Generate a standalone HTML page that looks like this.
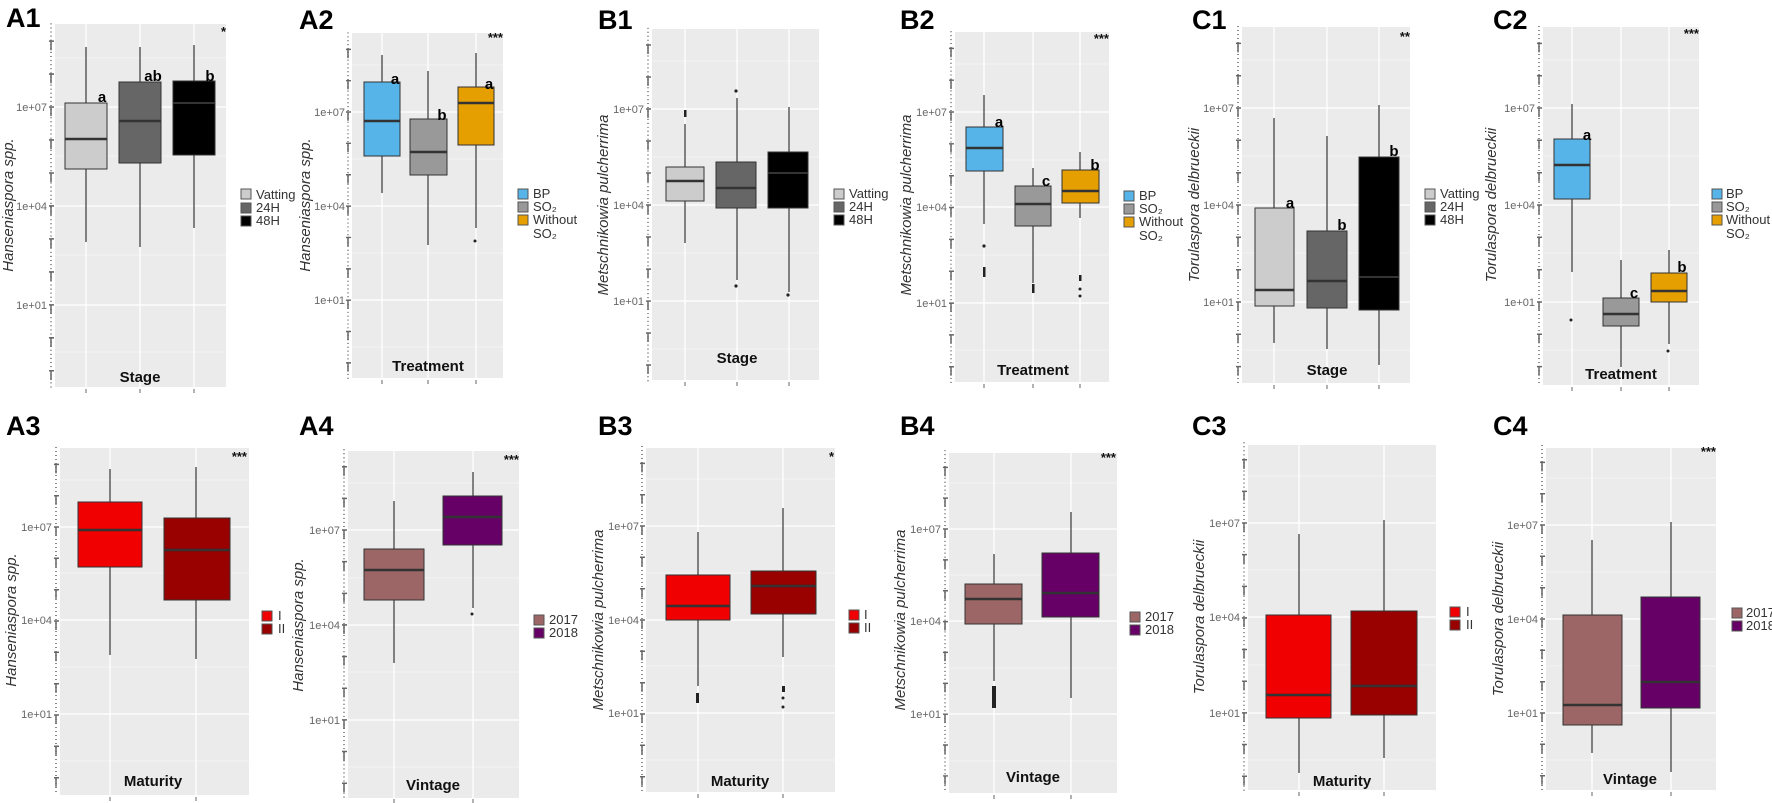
<!DOCTYPE html>
<html><head><meta charset="utf-8"><style>
body{margin:0;background:#fff}
svg{display:block}
.lab{font:bold 27px "Liberation Sans",sans-serif;fill:#000}
.tk{font:11px "Liberation Sans",sans-serif;fill:#666;text-anchor:end}
.yt{font:italic 15px "Liberation Sans",sans-serif;fill:#333;text-anchor:middle}
.xt{font:bold 15px "Liberation Sans",sans-serif;fill:#111;text-anchor:middle}
.lg{font:13px "Liberation Sans",sans-serif;fill:#333}
.le{font:bold 15px "Liberation Sans",sans-serif;fill:#000;text-anchor:middle}
.st{font:bold 13px "Liberation Sans",sans-serif;fill:#111;text-anchor:end}
.bx{stroke:#333;stroke-width:1}
.md{stroke:#333;stroke-width:2.5}
.wk{stroke:#444;stroke-width:1.3}
.gM{stroke:#fff;stroke-width:1.3}
.gm{stroke:#f6f6f6;stroke-width:0.8}
</style></head><body>
<svg width="1772" height="803" viewBox="0 0 1772 803" xmlns="http://www.w3.org/2000/svg">
<defs>
<g id="axT" stroke="#666" fill="none" stroke-width="1.5">
<line x1="-4" y1="-82" x2="-4" y2="278" stroke-dasharray="1,3"/>
<path d="M-6,-64.6h5M-6,-32.3h5M-6,0h5M-6,32.3h5M-6,64.7h5M-6,97h5M-6,129.3h5M-6,161.7h5M-6,194h5M-6,226.3h5M-6,258.6h5"/>
<path d="M-4,-64.6v9M-4,-32.3v9M-4,0v9M-4,32.3v9M-4,64.7v9M-4,97v9M-4,129.3v9M-4,161.7v9M-4,194v9M-4,226.3v9M-4,258.6v9"/>
</g>
<g id="axB" stroke="#666" fill="none" stroke-width="1.5">
<line x1="-4" y1="-80" x2="-4" y2="265" stroke-dasharray="1,3"/>
<path d="M-6,-62.6h5M-6,-31.3h5M-6,0h5M-6,31.3h5M-6,62.7h5M-6,94h5M-6,125.3h5M-6,156.7h5M-6,188h5M-6,219.3h5M-6,250.7h5"/>
<path d="M-4,-62.6v9M-4,-31.3v9M-4,0v9M-4,31.3v9M-4,62.7v9M-4,94v9M-4,125.3v9M-4,156.7v9M-4,188v9M-4,219.3v9M-4,250.7v9"/>
</g>
</defs>

<!-- ===== A1 ===== -->
<text class="lab" x="6" y="27">A1</text>
<rect x="55" y="24" width="171" height="363" fill="#ebebeb"/>
<g class="gm"><line x1="55" x2="226" y1="58" y2="58"/><line x1="55" x2="226" y1="156" y2="156"/><line x1="55" x2="226" y1="255" y2="255"/><line x1="55" x2="226" y1="352" y2="352"/></g>
<g class="gM"><line x1="55" x2="226" y1="107" y2="107"/><line x1="55" x2="226" y1="206" y2="206"/><line x1="55" x2="226" y1="305" y2="305"/><line x1="86" x2="86" y1="24" y2="387"/><line x1="140" x2="140" y1="24" y2="387"/><line x1="194" x2="194" y1="24" y2="387"/></g>
<use href="#axT" transform="translate(55,107) scale(1,1.02)"/>
<text class="tk" x="47" y="111">1e+07</text><text class="tk" x="47" y="210">1e+04</text><text class="tk" x="47" y="309">1e+01</text>
<text class="yt" transform="translate(13,205) rotate(-90)">Hanseniaspora spp.</text>
<line class="wk" x1="86" x2="86" y1="47" y2="242"/><rect class="bx" x="65" y="103" width="42" height="66" fill="#cccccc"/><line class="md" x1="65" x2="107" y1="139" y2="139"/>
<line class="wk" x1="140" x2="140" y1="47" y2="247"/><rect class="bx" x="119" y="82" width="42" height="81" fill="#666666"/><line class="md" x1="119" x2="161" y1="121" y2="121"/>
<line class="wk" x1="194" x2="194" y1="45" y2="228"/><rect class="bx" x="173" y="81" width="42" height="74" fill="#000000"/><line x1="173" x2="215" y1="103" y2="103" stroke="#333" stroke-width="2"/>
<text class="le" x="102" y="102">a</text><text class="le" x="153" y="81">ab</text><text class="le" x="210" y="81">b</text>
<text class="st" x="226" y="36">*</text>
<text class="xt" x="140" y="382">Stage</text>
<rect x="241" y="189" width="10" height="10" fill="#ccc" stroke="#555"/><text class="lg" x="256" y="199">Vatting</text>
<rect x="241" y="203" width="10" height="10" fill="#666" stroke="#555"/><text class="lg" x="256" y="212">24H</text>
<rect x="241" y="216" width="10" height="10" fill="#000" stroke="#555"/><text class="lg" x="256" y="225">48H</text>

<!-- ===== A2 ===== -->
<text class="lab" x="299" y="29">A2</text>
<rect x="352" y="33" width="151" height="345" fill="#ebebeb"/>
<g class="gm"><line x1="352" x2="503" y1="65" y2="65"/><line x1="352" x2="503" y1="159" y2="159"/><line x1="352" x2="503" y1="253" y2="253"/><line x1="352" x2="503" y1="347" y2="347"/></g>
<g class="gM"><line x1="352" x2="503" y1="112" y2="112"/><line x1="352" x2="503" y1="206" y2="206"/><line x1="352" x2="503" y1="300" y2="300"/><line x1="382" x2="382" y1="33" y2="378"/><line x1="428" x2="428" y1="33" y2="378"/><line x1="476" x2="476" y1="33" y2="378"/></g>
<use href="#axT" transform="translate(352,112) scale(1,0.97)"/>
<text class="tk" x="345" y="116">1e+07</text><text class="tk" x="345" y="210">1e+04</text><text class="tk" x="345" y="304">1e+01</text>
<text class="yt" transform="translate(310,205) rotate(-90)">Hanseniaspora spp.</text>
<line class="wk" x1="382" x2="382" y1="55" y2="193"/><rect class="bx" x="364" y="82" width="36" height="74" fill="#56b4e9"/><line class="md" x1="364" x2="400" y1="121" y2="121"/>
<line class="wk" x1="428" x2="428" y1="71" y2="245"/><rect class="bx" x="410" y="119" width="37" height="56" fill="#999999"/><line class="md" x1="410" x2="447" y1="152" y2="152"/>
<line class="wk" x1="476" x2="476" y1="53" y2="228"/><rect class="bx" x="458" y="87" width="36" height="58" fill="#e69f00"/><line class="md" x1="458" x2="494" y1="103" y2="103"/>
<circle cx="475" cy="241" r="1.5" fill="#222"/>
<text class="le" x="395" y="84">a</text><text class="le" x="442" y="120">b</text><text class="le" x="489" y="89">a</text>
<text class="st" x="503" y="42">***</text>
<text class="xt" x="428" y="371">Treatment</text>
<rect x="518" y="189" width="10" height="10" fill="#56b4e9" stroke="#555"/><text class="lg" x="533" y="198">BP</text>
<rect x="518" y="202" width="10" height="10" fill="#999" stroke="#555"/><text class="lg" x="533" y="211">SO₂</text>
<rect x="518" y="215" width="10" height="10" fill="#e69f00" stroke="#555"/><text class="lg" x="533" y="224">Without</text>
<text class="lg" x="533" y="238">SO₂</text>

<!-- ===== B1 ===== -->
<text class="lab" x="598" y="29">B1</text>
<rect x="652" y="29" width="167" height="351" fill="#ebebeb"/>
<g class="gm"><line x1="652" x2="819" y1="61" y2="61"/><line x1="652" x2="819" y1="157" y2="157"/><line x1="652" x2="819" y1="253" y2="253"/><line x1="652" x2="819" y1="349" y2="349"/></g>
<g class="gM"><line x1="652" x2="819" y1="109" y2="109"/><line x1="652" x2="819" y1="205" y2="205"/><line x1="652" x2="819" y1="301" y2="301"/><line x1="685" x2="685" y1="29" y2="380"/><line x1="737" x2="737" y1="29" y2="380"/><line x1="789" x2="789" y1="29" y2="380"/></g>
<use href="#axT" transform="translate(652,109) scale(1,0.99)"/>
<text class="tk" x="644" y="113">1e+07</text><text class="tk" x="644" y="209">1e+04</text><text class="tk" x="644" y="305">1e+01</text>
<text class="yt" transform="translate(608,205) rotate(-90)">Metschnikowia pulcherrima</text>
<line class="wk" x1="685" x2="685" y1="124" y2="243"/><rect class="bx" x="666" y="167" width="38" height="34" fill="#cccccc"/><line class="md" x1="666" x2="704" y1="181" y2="181"/>
<rect x="684" y="110" width="2.5" height="7" fill="#222"/>
<line class="wk" x1="737" x2="737" y1="98" y2="280"/><rect class="bx" x="716" y="162" width="40" height="46" fill="#666666"/><line class="md" x1="716" x2="756" y1="188" y2="188"/>
<circle cx="736" cy="91" r="1.6" fill="#222"/><circle cx="736" cy="286" r="1.6" fill="#222"/>
<line class="wk" x1="789" x2="789" y1="107" y2="292"/><rect class="bx" x="768" y="152" width="40" height="56" fill="#000000"/><line x1="768" x2="808" y1="173" y2="173" stroke="#333" stroke-width="2"/>
<circle cx="788" cy="295" r="1.6" fill="#222"/>
<text class="xt" x="737" y="363">Stage</text>
<rect x="834" y="189" width="10" height="10" fill="#ccc" stroke="#555"/><text class="lg" x="849" y="198">Vatting</text>
<rect x="834" y="202" width="10" height="10" fill="#666" stroke="#555"/><text class="lg" x="849" y="211">24H</text>
<rect x="834" y="215" width="10" height="10" fill="#000" stroke="#555"/><text class="lg" x="849" y="224">48H</text>

<!-- ===== B2 ===== -->
<text class="lab" x="900" y="29">B2</text>
<rect x="955" y="32" width="154" height="350" fill="#ebebeb"/>
<g class="gm"><line x1="955" x2="1109" y1="64" y2="64"/><line x1="955" x2="1109" y1="160" y2="160"/><line x1="955" x2="1109" y1="255" y2="255"/><line x1="955" x2="1109" y1="350" y2="350"/></g>
<g class="gM"><line x1="955" x2="1109" y1="112" y2="112"/><line x1="955" x2="1109" y1="207" y2="207"/><line x1="955" x2="1109" y1="303" y2="303"/><line x1="984" x2="984" y1="32" y2="382"/><line x1="1033" x2="1033" y1="32" y2="382"/><line x1="1080" x2="1080" y1="32" y2="382"/></g>
<use href="#axT" transform="translate(955,112) scale(1,0.985)"/>
<text class="tk" x="947" y="116">1e+07</text><text class="tk" x="947" y="211">1e+04</text><text class="tk" x="947" y="307">1e+01</text>
<text class="yt" transform="translate(911,205) rotate(-90)">Metschnikowia pulcherrima</text>
<line class="wk" x1="984" x2="984" y1="95" y2="224"/><rect class="bx" x="966" y="127" width="37" height="44" fill="#56b4e9"/><line class="md" x1="966" x2="1003" y1="148" y2="148"/>
<circle cx="984" cy="246" r="1.6" fill="#222"/><rect x="983" y="267" width="2.5" height="10" fill="#222"/>
<line class="wk" x1="1033" x2="1033" y1="168" y2="283"/><rect class="bx" x="1015" y="186" width="36" height="40" fill="#999999"/><line class="md" x1="1015" x2="1051" y1="204" y2="204"/>
<rect x="1032" y="284" width="2.5" height="9" fill="#222"/>
<line class="wk" x1="1080" x2="1080" y1="152" y2="218"/><rect class="bx" x="1062" y="170" width="37" height="33" fill="#e69f00"/><line class="md" x1="1062" x2="1099" y1="191" y2="191"/>
<rect x="1079" y="275" width="2.5" height="6" fill="#222"/><circle cx="1080" cy="289" r="1.5" fill="#222"/><circle cx="1080" cy="296" r="1.5" fill="#222"/>
<text class="le" x="999" y="127">a</text><text class="le" x="1046" y="186">c</text><text class="le" x="1095" y="170">b</text>
<text class="st" x="1109" y="43">***</text>
<text class="xt" x="1033" y="375">Treatment</text>
<rect x="1124" y="191" width="10" height="10" fill="#56b4e9" stroke="#555"/><text class="lg" x="1139" y="200">BP</text>
<rect x="1124" y="204" width="10" height="10" fill="#999" stroke="#555"/><text class="lg" x="1139" y="213">SO₂</text>
<rect x="1124" y="217" width="10" height="10" fill="#e69f00" stroke="#555"/><text class="lg" x="1139" y="226">Without</text>
<text class="lg" x="1139" y="240">SO₂</text>

<!-- ===== C1 ===== -->
<text class="lab" x="1192" y="29">C1</text>
<rect x="1242" y="27" width="168" height="356" fill="#ebebeb"/>
<g class="gm"><line x1="1242" x2="1410" y1="60" y2="60"/><line x1="1242" x2="1410" y1="156" y2="156"/><line x1="1242" x2="1410" y1="253" y2="253"/><line x1="1242" x2="1410" y1="350" y2="350"/></g>
<g class="gM"><line x1="1242" x2="1410" y1="108" y2="108"/><line x1="1242" x2="1410" y1="205" y2="205"/><line x1="1242" x2="1410" y1="302" y2="302"/><line x1="1274" x2="1274" y1="27" y2="383"/><line x1="1327" x2="1327" y1="27" y2="383"/><line x1="1379" x2="1379" y1="27" y2="383"/></g>
<use href="#axT" transform="translate(1242,108)"/>
<text class="tk" x="1234" y="112">1e+07</text><text class="tk" x="1234" y="209">1e+04</text><text class="tk" x="1234" y="306">1e+01</text>
<text class="yt" transform="translate(1199,205) rotate(-90)">Torulaspora delbrueckii</text>
<line class="wk" x1="1274" x2="1274" y1="118" y2="343"/><rect class="bx" x="1255" y="208" width="39" height="98" fill="#cccccc"/><line class="md" x1="1255" x2="1294" y1="290" y2="290"/>
<line class="wk" x1="1327" x2="1327" y1="136" y2="349"/><rect class="bx" x="1307" y="231" width="40" height="77" fill="#666666"/><line class="md" x1="1307" x2="1347" y1="281" y2="281"/>
<line class="wk" x1="1379" x2="1379" y1="105" y2="365"/><rect class="bx" x="1359" y="157" width="40" height="153" fill="#000000"/><line x1="1359" x2="1399" y1="277" y2="277" stroke="#333" stroke-width="2"/>
<text class="le" x="1290" y="208">a</text><text class="le" x="1342" y="230">b</text><text class="le" x="1394" y="156">b</text>
<text class="st" x="1410" y="41">**</text>
<text class="xt" x="1327" y="375">Stage</text>
<rect x="1425" y="189" width="10" height="10" fill="#ccc" stroke="#555"/><text class="lg" x="1440" y="198">Vatting</text>
<rect x="1425" y="202" width="10" height="10" fill="#666" stroke="#555"/><text class="lg" x="1440" y="211">24H</text>
<rect x="1425" y="215" width="10" height="10" fill="#000" stroke="#555"/><text class="lg" x="1440" y="224">48H</text>

<!-- ===== C2 ===== -->
<text class="lab" x="1493" y="29">C2</text>
<rect x="1543" y="27" width="156" height="358" fill="#ebebeb"/>
<g class="gm"><line x1="1543" x2="1699" y1="60" y2="60"/><line x1="1543" x2="1699" y1="156" y2="156"/><line x1="1543" x2="1699" y1="253" y2="253"/><line x1="1543" x2="1699" y1="350" y2="350"/></g>
<g class="gM"><line x1="1543" x2="1699" y1="108" y2="108"/><line x1="1543" x2="1699" y1="205" y2="205"/><line x1="1543" x2="1699" y1="302" y2="302"/><line x1="1572" x2="1572" y1="27" y2="385"/><line x1="1621" x2="1621" y1="27" y2="385"/><line x1="1669" x2="1669" y1="27" y2="385"/></g>
<use href="#axT" transform="translate(1543,108)"/>
<text class="tk" x="1535" y="112">1e+07</text><text class="tk" x="1535" y="209">1e+04</text><text class="tk" x="1535" y="306">1e+01</text>
<text class="yt" transform="translate(1496,205) rotate(-90)">Torulaspora delbrueckii</text>
<line class="wk" x1="1572" x2="1572" y1="104" y2="272"/><rect class="bx" x="1554" y="139" width="36" height="60" fill="#56b4e9"/><line class="md" x1="1554" x2="1590" y1="165" y2="165"/>
<circle cx="1571" cy="320" r="1.5" fill="#222"/>
<line class="wk" x1="1621" x2="1621" y1="260" y2="367"/><rect class="bx" x="1603" y="298" width="36" height="28" fill="#999999"/><line class="md" x1="1603" x2="1639" y1="314" y2="314"/>
<line class="wk" x1="1669" x2="1669" y1="250" y2="344"/><rect class="bx" x="1651" y="273" width="36" height="29" fill="#e69f00"/><line class="md" x1="1651" x2="1687" y1="291" y2="291"/>
<circle cx="1668" cy="351" r="1.5" fill="#222"/>
<text class="le" x="1587" y="140">a</text><text class="le" x="1634" y="298">c</text><text class="le" x="1682" y="272">b</text>
<text class="st" x="1699" y="38">***</text>
<text class="xt" x="1621" y="379">Treatment</text>
<rect x="1712" y="189" width="10" height="10" fill="#56b4e9" stroke="#555"/><text class="lg" x="1726" y="198">BP</text>
<rect x="1712" y="202" width="10" height="10" fill="#999" stroke="#555"/><text class="lg" x="1726" y="211">SO₂</text>
<rect x="1712" y="215" width="10" height="10" fill="#e69f00" stroke="#555"/><text class="lg" x="1726" y="224">Without</text>
<text class="lg" x="1726" y="238">SO₂</text>

<!-- x-axis ticks top row -->
<g stroke="#666" stroke-width="1">
<line x1="86" x2="86" y1="389" y2="393"/><line x1="140" x2="140" y1="389" y2="393"/><line x1="194" x2="194" y1="389" y2="393"/>
<line x1="382" x2="382" y1="380" y2="384"/><line x1="428" x2="428" y1="380" y2="384"/><line x1="476" x2="476" y1="380" y2="384"/>
<line x1="685" x2="685" y1="382" y2="386"/><line x1="737" x2="737" y1="382" y2="386"/><line x1="789" x2="789" y1="382" y2="386"/>
<line x1="984" x2="984" y1="384" y2="388"/><line x1="1033" x2="1033" y1="384" y2="388"/><line x1="1080" x2="1080" y1="384" y2="388"/>
<line x1="1274" x2="1274" y1="385" y2="389"/><line x1="1327" x2="1327" y1="385" y2="389"/><line x1="1379" x2="1379" y1="385" y2="389"/>
<line x1="1572" x2="1572" y1="387" y2="391"/><line x1="1621" x2="1621" y1="387" y2="391"/><line x1="1669" x2="1669" y1="387" y2="391"/>
</g>

<!-- ===== A3 ===== -->
<text class="lab" x="6" y="435">A3</text>
<rect x="60" y="448" width="189" height="347" fill="#ebebeb"/>
<g class="gm"><line x1="60" x2="249" y1="480" y2="480"/><line x1="60" x2="249" y1="573" y2="573"/><line x1="60" x2="249" y1="667" y2="667"/><line x1="60" x2="249" y1="761" y2="761"/></g>
<g class="gM"><line x1="60" x2="249" y1="527" y2="527"/><line x1="60" x2="249" y1="620" y2="620"/><line x1="60" x2="249" y1="714" y2="714"/><line x1="110" x2="110" y1="448" y2="795"/><line x1="196" x2="196" y1="448" y2="795"/></g>
<use href="#axB" transform="translate(60,527)"/>
<text class="tk" x="52" y="531">1e+07</text><text class="tk" x="52" y="624">1e+04</text><text class="tk" x="52" y="718">1e+01</text>
<text class="yt" transform="translate(16,620) rotate(-90)">Hanseniaspora spp.</text>
<line class="wk" x1="110" x2="110" y1="469" y2="655"/><rect class="bx" x="78" y="502" width="64" height="65" fill="#f00000"/><line class="md" x1="78" x2="142" y1="530" y2="530"/>
<line class="wk" x1="196" x2="196" y1="467" y2="659"/><rect class="bx" x="164" y="518" width="66" height="82" fill="#990000"/><line class="md" x1="164" x2="230" y1="550" y2="550"/>
<text class="st" x="247" y="461">***</text>
<text class="xt" x="153" y="786">Maturity</text>
<rect x="262" y="611" width="10" height="10" fill="#f00000" stroke="#555"/><text class="lg" x="278" y="620">I</text>
<rect x="262" y="624" width="10" height="10" fill="#990000" stroke="#555"/><text class="lg" x="278" y="633">II</text>

<!-- ===== A4 ===== -->
<text class="lab" x="299" y="435">A4</text>
<rect x="348" y="451" width="171" height="347" fill="#ebebeb"/>
<g class="gm"><line x1="348" x2="519" y1="483" y2="483"/><line x1="348" x2="519" y1="578" y2="578"/><line x1="348" x2="519" y1="672" y2="672"/><line x1="348" x2="519" y1="767" y2="767"/></g>
<g class="gM"><line x1="348" x2="519" y1="530" y2="530"/><line x1="348" x2="519" y1="625" y2="625"/><line x1="348" x2="519" y1="720" y2="720"/><line x1="394" x2="394" y1="451" y2="798"/><line x1="473" x2="473" y1="451" y2="798"/></g>
<use href="#axB" transform="translate(348,530) scale(1,1.01)"/>
<text class="tk" x="340" y="534">1e+07</text><text class="tk" x="340" y="629">1e+04</text><text class="tk" x="340" y="724">1e+01</text>
<text class="yt" transform="translate(303,625) rotate(-90)">Hanseniaspora spp.</text>
<line class="wk" x1="394" x2="394" y1="501" y2="663"/><rect class="bx" x="364" y="549" width="60" height="51" fill="#9c6666"/><line class="md" x1="364" x2="424" y1="570" y2="570"/>
<line class="wk" x1="473" x2="473" y1="472" y2="608"/><rect class="bx" x="443" y="496" width="59" height="49" fill="#660066"/><line class="md" x1="443" x2="502" y1="517" y2="517"/>
<circle cx="472" cy="614" r="1.5" fill="#222"/>
<text class="st" x="519" y="464">***</text>
<text class="xt" x="433" y="790">Vintage</text>
<rect x="534" y="615" width="10" height="10" fill="#9c6666" stroke="#555"/><text class="lg" x="549" y="624">2017</text>
<rect x="534" y="628" width="10" height="10" fill="#660066" stroke="#555"/><text class="lg" x="549" y="637">2018</text>

<!-- ===== B3 ===== -->
<text class="lab" x="598" y="435">B3</text>
<rect x="646" y="448" width="189" height="344" fill="#ebebeb"/>
<g class="gm"><line x1="646" x2="835" y1="479" y2="479"/><line x1="646" x2="835" y1="573" y2="573"/><line x1="646" x2="835" y1="666" y2="666"/><line x1="646" x2="835" y1="760" y2="760"/></g>
<g class="gM"><line x1="646" x2="835" y1="526" y2="526"/><line x1="646" x2="835" y1="620" y2="620"/><line x1="646" x2="835" y1="713" y2="713"/><line x1="698" x2="698" y1="448" y2="792"/><line x1="783" x2="783" y1="448" y2="792"/></g>
<use href="#axB" transform="translate(646,526)"/>
<text class="tk" x="639" y="530">1e+07</text><text class="tk" x="639" y="624">1e+04</text><text class="tk" x="639" y="717">1e+01</text>
<text class="yt" transform="translate(603,620) rotate(-90)">Metschnikowia pulcherrima</text>
<line class="wk" x1="698" x2="698" y1="532" y2="686"/><rect class="bx" x="666" y="575" width="64" height="45" fill="#f00000"/><line class="md" x1="666" x2="730" y1="606" y2="606"/>
<rect x="696" y="693" width="3" height="10" fill="#222"/>
<line class="wk" x1="783" x2="783" y1="508" y2="657"/><rect class="bx" x="751" y="571" width="65" height="43" fill="#990000"/><line class="md" x1="751" x2="816" y1="586" y2="586"/>
<rect x="782" y="686" width="3" height="6" fill="#222"/><circle cx="783" cy="698" r="1.5" fill="#222"/><circle cx="783" cy="707" r="1.5" fill="#222"/>
<text class="st" x="834" y="461">*</text>
<text class="xt" x="740" y="786">Maturity</text>
<rect x="849" y="610" width="10" height="10" fill="#f00000" stroke="#555"/><text class="lg" x="864" y="619">I</text>
<rect x="849" y="623" width="10" height="10" fill="#990000" stroke="#555"/><text class="lg" x="864" y="632">II</text>

<!-- ===== B4 ===== -->
<text class="lab" x="900" y="435">B4</text>
<rect x="949" y="453" width="168" height="340" fill="#ebebeb"/>
<g class="gm"><line x1="949" x2="1117" y1="483" y2="483"/><line x1="949" x2="1117" y1="575" y2="575"/><line x1="949" x2="1117" y1="668" y2="668"/><line x1="949" x2="1117" y1="761" y2="761"/></g>
<g class="gM"><line x1="949" x2="1117" y1="529" y2="529"/><line x1="949" x2="1117" y1="621" y2="621"/><line x1="949" x2="1117" y1="714" y2="714"/><line x1="994" x2="994" y1="453" y2="793"/><line x1="1071" x2="1071" y1="453" y2="793"/></g>
<use href="#axB" transform="translate(949,529) scale(1,0.985)"/>
<text class="tk" x="941" y="533">1e+07</text><text class="tk" x="941" y="625">1e+04</text><text class="tk" x="941" y="718">1e+01</text>
<text class="yt" transform="translate(905,620) rotate(-90)">Metschnikowia pulcherrima</text>
<line class="wk" x1="994" x2="994" y1="554" y2="681"/><rect class="bx" x="965" y="584" width="57" height="40" fill="#9c6666"/><line class="md" x1="965" x2="1022" y1="599" y2="599"/>
<rect x="992" y="686" width="4" height="22" fill="#222"/>
<line class="wk" x1="1071" x2="1071" y1="512" y2="698"/><rect class="bx" x="1042" y="553" width="57" height="64" fill="#660066"/><line class="md" x1="1042" x2="1099" y1="593" y2="593"/>
<text class="st" x="1116" y="462">***</text>
<text class="xt" x="1033" y="782">Vintage</text>
<rect x="1130" y="612" width="10" height="10" fill="#9c6666" stroke="#555"/><text class="lg" x="1145" y="621">2017</text>
<rect x="1130" y="625" width="10" height="10" fill="#660066" stroke="#555"/><text class="lg" x="1145" y="634">2018</text>

<!-- ===== C3 ===== -->
<text class="lab" x="1192" y="435">C3</text>
<rect x="1248" y="445" width="188" height="345" fill="#ebebeb"/>
<g class="gm"><line x1="1248" x2="1436" y1="476" y2="476"/><line x1="1248" x2="1436" y1="570" y2="570"/><line x1="1248" x2="1436" y1="665" y2="665"/><line x1="1248" x2="1436" y1="760" y2="760"/></g>
<g class="gM"><line x1="1248" x2="1436" y1="523" y2="523"/><line x1="1248" x2="1436" y1="617" y2="617"/><line x1="1248" x2="1436" y1="713" y2="713"/><line x1="1299" x2="1299" y1="445" y2="790"/><line x1="1384" x2="1384" y1="445" y2="790"/></g>
<use href="#axB" transform="translate(1248,523) scale(1,1.01)"/>
<text class="tk" x="1240" y="527">1e+07</text><text class="tk" x="1240" y="621">1e+04</text><text class="tk" x="1240" y="717">1e+01</text>
<text class="yt" transform="translate(1204,617) rotate(-90)">Torulaspora delbrueckii</text>
<line class="wk" x1="1299" x2="1299" y1="534" y2="773"/><rect class="bx" x="1266" y="615" width="65" height="103" fill="#f00000"/><line class="md" x1="1266" x2="1331" y1="695" y2="695"/>
<line class="wk" x1="1384" x2="1384" y1="520" y2="758"/><rect class="bx" x="1351" y="611" width="66" height="104" fill="#990000"/><line class="md" x1="1351" x2="1417" y1="686" y2="686"/>
<text class="xt" x="1342" y="786">Maturity</text>
<rect x="1450" y="607" width="10" height="10" fill="#f00000" stroke="#555"/><text class="lg" x="1466" y="616">I</text>
<rect x="1450" y="620" width="10" height="10" fill="#990000" stroke="#555"/><text class="lg" x="1466" y="629">II</text>

<!-- ===== C4 ===== -->
<text class="lab" x="1493" y="435">C4</text>
<rect x="1546" y="448" width="170" height="342" fill="#ebebeb"/>
<g class="gm"><line x1="1546" x2="1716" y1="478" y2="478"/><line x1="1546" x2="1716" y1="572" y2="572"/><line x1="1546" x2="1716" y1="666" y2="666"/><line x1="1546" x2="1716" y1="760" y2="760"/></g>
<g class="gM"><line x1="1546" x2="1716" y1="525" y2="525"/><line x1="1546" x2="1716" y1="619" y2="619"/><line x1="1546" x2="1716" y1="713" y2="713"/><line x1="1592" x2="1592" y1="448" y2="790"/><line x1="1671" x2="1671" y1="448" y2="790"/></g>
<use href="#axB" transform="translate(1546,525)"/>
<text class="tk" x="1538" y="529">1e+07</text><text class="tk" x="1538" y="623">1e+04</text><text class="tk" x="1538" y="717">1e+01</text>
<text class="yt" transform="translate(1503,619) rotate(-90)">Torulaspora delbrueckii</text>
<line class="wk" x1="1592" x2="1592" y1="540" y2="753"/><rect class="bx" x="1563" y="615" width="59" height="110" fill="#9c6666"/><line class="md" x1="1563" x2="1622" y1="705" y2="705"/>
<line class="wk" x1="1671" x2="1671" y1="522" y2="772"/><rect class="bx" x="1641" y="597" width="59" height="111" fill="#660066"/><line class="md" x1="1641" x2="1700" y1="682" y2="682"/>
<text class="st" x="1716" y="456">***</text>
<text class="xt" x="1630" y="784">Vintage</text>
<rect x="1732" y="608" width="10" height="10" fill="#9c6666" stroke="#555"/><text class="lg" x="1746" y="617">2017</text>
<rect x="1732" y="621" width="10" height="10" fill="#660066" stroke="#555"/><text class="lg" x="1746" y="630">2018</text>

<!-- x-axis ticks bottom row -->
<g stroke="#666" stroke-width="1">
<line x1="110" x2="110" y1="797" y2="801"/><line x1="196" x2="196" y1="797" y2="801"/>
<line x1="394" x2="394" y1="799" y2="803"/><line x1="473" x2="473" y1="799" y2="803"/>
<line x1="698" x2="698" y1="794" y2="798"/><line x1="783" x2="783" y1="794" y2="798"/>
<line x1="994" x2="994" y1="795" y2="799"/><line x1="1071" x2="1071" y1="795" y2="799"/>
<line x1="1299" x2="1299" y1="792" y2="796"/><line x1="1384" x2="1384" y1="792" y2="796"/>
<line x1="1592" x2="1592" y1="792" y2="796"/><line x1="1671" x2="1671" y1="792" y2="796"/>
</g>
</svg>
</body></html>
